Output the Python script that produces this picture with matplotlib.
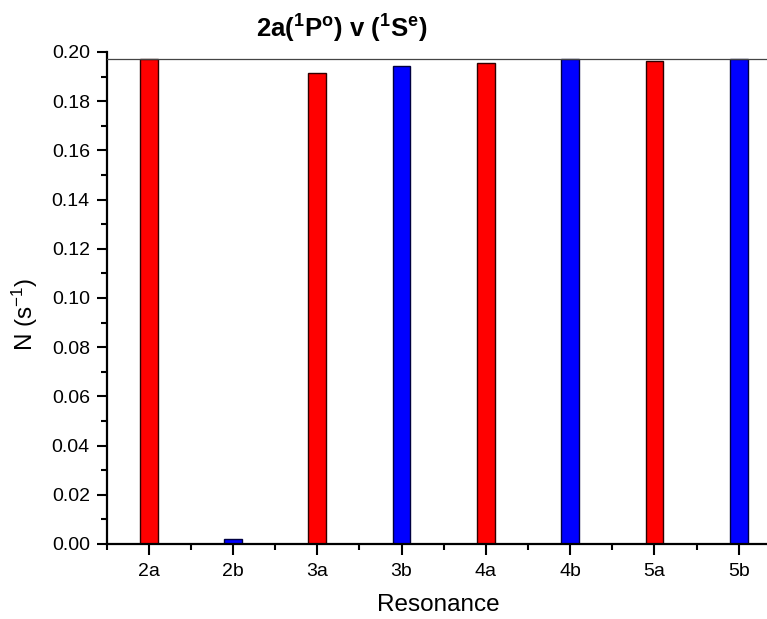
import matplotlib
matplotlib.use("Agg")
import matplotlib.pyplot as plt
from matplotlib.ticker import MultipleLocator, FormatStrFormatter

plt.rcParams.update({
    "font.family": "Liberation Sans",
    "mathtext.fontset": "custom",
    "mathtext.rm": "Liberation Sans",
    "mathtext.it": "Liberation Sans",
    "mathtext.bf": "Liberation Sans:bold",
})

# data
resonances = ["2a", "2b", "3a", "3b", "4a", "4b", "5a", "5b"]
rates = [0.1972, 0.0019, 0.1914, 0.1944, 0.1957, 0.1972, 0.1965, 0.1972]
bar_colors = ["#ff0000", "#0000ff", "#ff0000", "#0000ff",
              "#ff0000", "#0000ff", "#ff0000", "#0000ff"]
edge_colors = ["#300000", "#000040", "#300000", "#000040",
               "#300000", "#000040", "#300000", "#000040"]
max_line = 0.1972

fig = plt.figure(figsize=(7.67, 6.19), dpi=100)
ax = fig.add_axes([106.5 / 767, (619 - 544) / 619,
                   (767 - 106.5) / 767, (544 - 52) / 619])

x = list(range(len(resonances)))
ax.bar(x, rates, width=0.21, color=bar_colors, edgecolor=edge_colors,
       linewidth=1.0, zorder=2)
ax.axhline(max_line, color="#444444", lw=0.9, zorder=3)

ax.set_xlim(-0.5, -0.5 + (767 - 106.5) / 84.3)
ax.set_ylim(0, 0.2)
ax.set_xticks(x)
ax.set_xticklabels(resonances)
ax.set_xticks([i - 0.5 for i in range(len(resonances))], minor=True)
ax.yaxis.set_major_locator(MultipleLocator(0.02))
ax.yaxis.set_minor_locator(MultipleLocator(0.01))
ax.yaxis.set_major_formatter(FormatStrFormatter("%.2f"))

ax.tick_params(axis="both", which="major", direction="out", length=7,
               width=1.5, labelsize=14, pad=5)
ax.tick_params(axis="both", which="minor", direction="out", length=4.5,
               width=1.5)
ax.tick_params(axis="x", which="major", length=8, pad=6)

ax.spines["left"].set_linewidth(1.6)
ax.spines["bottom"].set_linewidth(1.6)
ax.spines["top"].set_visible(False)
ax.spines["right"].set_visible(False)

fig.text(438 / 767, 1 - 605 / 619, "Resonance", fontsize=17.5,
         ha="center", va="center")
fig.text(25 / 767, 1 - 314 / 619, r"N (s$^{-1}$)", fontsize=17.5,
         ha="center", va="center", rotation=90)
fig.text(342 / 767, 1 - 29 / 619,
         r"2a($^{\mathbf{1}}$P$^{\mathbf{o}}$) v ($^{\mathbf{1}}$S$^{\mathbf{e}}$)",
         fontsize=18.5, fontweight="bold", ha="center", va="center")

fig.savefig("out.png", dpi=100)
